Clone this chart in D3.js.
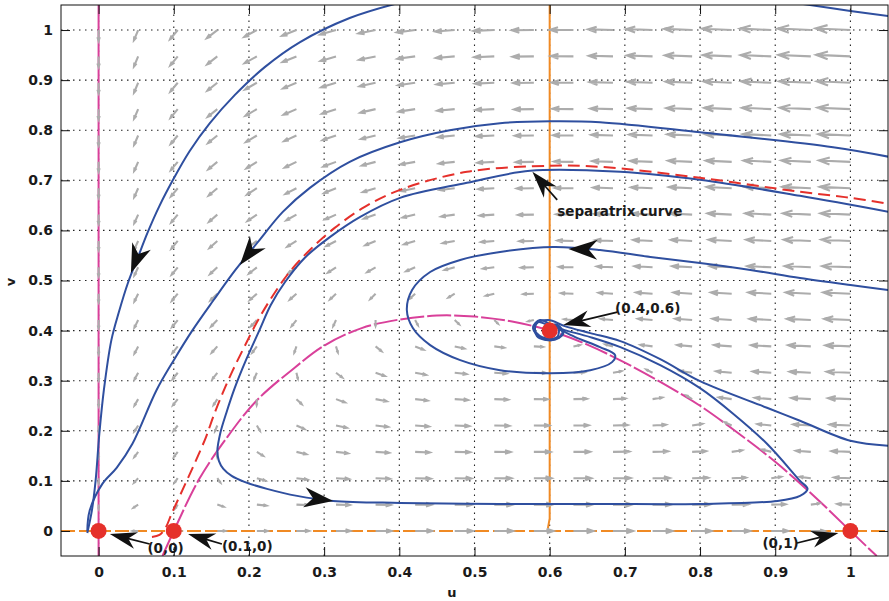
<!DOCTYPE html>
<html lang="en">
<head>
<meta charset="utf-8">
<title>Phase portrait</title>
<script src="https://d3js.org/d3.v7.min.js"></script>
<style>
  body { margin: 0; background: #fff; }
  svg { display: block; }
  text { font-family: "DejaVu Sans", sans-serif; font-weight: bold; fill: #1a1a1a; }
</style>
</head>
<body>
<svg width="889" height="601"></svg>
<script>
  // axis ticks
  var ticks = [0, 0.1, 0.2, 0.3, 0.4, 0.5, 0.6, 0.7, 0.8, 0.9, 1];
  var tickLabels = ["0", "0.1", "0.2", "0.3", "0.4", "0.5", "0.6", "0.7", "0.8", "0.9", "1"];

  // trajectories (u, v)
  var trajA = [[0.394,1.052],[0.334,1.024],[0.268,0.976],[0.221,0.926],[0.181,0.870],[0.148,0.814],[0.121,0.758],
    [0.099,0.701],[0.081,0.649],[0.065,0.595],[0.052,0.545],[0.039,0.495],[0.027,0.437],[0.017,0.381],[0.007,0.281],
    [0.001,0.194],[-0.004,0.100],[-0.009,0.040],[-0.015,-0.004]];
  var trajB = [[1.051,0.747],[0.977,0.766],[0.800,0.796],[0.667,0.816],[0.601,0.818],[0.534,0.814],[0.467,0.800],
    [0.401,0.776],[0.334,0.737],[0.281,0.685],[0.245,0.637],[0.212,0.577],[0.182,0.521],[0.153,0.461],[0.125,0.401],
    [0.100,0.341],[0.077,0.281],[0.045,0.174],[0.024,0.126],[0.005,0.094],[-0.012,0.040],[-0.015,0.0]];
  var trajC = [[1.051,0.637],[0.933,0.669],[0.800,0.701],[0.694,0.717],[0.574,0.719],[0.490,0.695],[0.401,0.665],
    [0.348,0.627],[0.308,0.587],[0.274,0.545],[0.248,0.497],[0.229,0.451],[0.214,0.401],[0.196,0.341],[0.181,0.285],
    [0.170,0.236],[0.162,0.196],[0.158,0.160],[0.160,0.140],[0.166,0.124],[0.177,0.110],[0.194,0.098],[0.224,0.084],
    [0.264,0.070],[0.312,0.060],[0.401,0.056],[0.534,0.054],[0.667,0.054],[0.800,0.054],[0.903,0.060],[0.933,0.070],
    [0.943,0.084],[0.933,0.100],[0.889,0.174],[0.844,0.234],[0.800,0.285],[0.747,0.331],[0.694,0.367],[0.654,0.387],
    [0.620,0.401],[0.598,0.411],[0.585,0.417],[0.578,0.405],[0.587,0.387],[0.604,0.381],[0.618,0.393],[0.611,0.411],
    [0.597,0.407],[0.599,0.395]];
  var trajD = [[1.051,0.481],[1.0,0.491],[0.933,0.505],[0.867,0.521],[0.800,0.535],[0.734,0.547],[0.667,0.561],
    [0.605,0.567],[0.534,0.557],[0.481,0.541],[0.441,0.517],[0.417,0.481],[0.410,0.441],[0.418,0.405],[0.441,0.371],
    [0.481,0.341],[0.534,0.321],[0.601,0.315],[0.654,0.321],[0.683,0.337],[0.687,0.351],[0.667,0.367],[0.634,0.387],
    [0.607,0.407],[0.587,0.421],[0.578,0.407],[0.590,0.387],[0.610,0.387],[0.611,0.407],[0.597,0.409],[0.599,0.395]];
  var trajE = [[1.051,0.170],[1.0,0.180],[0.933,0.220],[0.889,0.246],[0.800,0.299],
    [0.747,0.343],[0.694,0.379],[0.654,0.395],[0.620,0.409],[0.598,0.421],[0.582,0.413],[0.583,0.389],[0.603,0.381],
    [0.617,0.395],[0.609,0.411],[0.595,0.405],[0.601,0.393]];
  var trajF = [[0.937,1.052],[1.0,1.038],[1.051,1.028]];
  var trajectories = [trajA, trajB, trajC, trajD, trajE, trajF];

  var separatrix = [[0.071,-0.012],[0.081,-0.008],[0.089,0.006],[0.097,0.034],[0.108,0.070],[0.119,0.106],
    [0.131,0.146],[0.143,0.188],[0.153,0.230],[0.165,0.275],[0.178,0.319],[0.193,0.365],[0.210,0.415],[0.228,0.461],
    [0.254,0.517],[0.281,0.561],[0.314,0.605],[0.354,0.647],[0.401,0.681],[0.490,0.717],[0.601,0.729],[0.667,0.727],
    [0.800,0.705],[0.933,0.677],[1.0,0.665],[1.051,0.653]];

  // nullclines
  var preyNullcline = [[0.085,-0.05],[0.1,0],[0.134,0.104],[0.17,0.185],[0.21,0.26],[0.26,0.325],[0.3,0.37],[0.35,0.405],
    [0.4,0.422],[0.45,0.43],[0.5,0.428],[0.55,0.418],[0.6,0.4],[0.65,0.372],[0.7,0.336],[0.75,0.295],[0.8,0.25],
    [0.85,0.196],[0.9,0.138],[0.95,0.072],[1.0,0],[1.035,-0.05]];
  var preyAxis = [[0, -0.05], [0, 1.05]];
  var predAxis = [[-0.05, 0], [1.05, 0]];
  var predLine = [[0.6, 1.05], [0.6, 0.025], [0.597, 0.0]];

  var equilibria = [[0, 0], [0.1, 0], [0.6, 0.4], [1, 0]];

  // black arrowheads on trajectories: tip, then a point behind it
  var flowTips = [[0.043, 0.515], [0.188, 0.531], [0.312, 0.060], [0.625, 0.563]];
  var flowFrom = [[0.060, 0.580], [0.224, 0.600], [0.270, 0.068], [0.667, 0.561]];

  // annotations
  var notes = ["separatrix curve", "(0.4,0.6)", "(0,0)", "(0.1,0)", "(0,1)"];
  var noteAt = [[0.61, 0.629], [0.687, 0.435], [0.065, -0.044], [0.164, -0.04], [0.883, -0.034]];
  var pointerFrom = [[0.61, 0.661], [0.69, 0.437], [0.068, -0.026], [0.164, -0.026], [0.929, -0.024]];
  var pointerTo = [[0.577, 0.717], [0.618, 0.411], [0.015, -0.006], [0.119, -0.006], [0.984, -0.004]];

  // the system behind the direction field
  var ALLEE = 0.1, HB = 0.59, HC = 2.38, RATE = 0.11, USTAR = 0.6;
  function field(u, v) {
    return [u * ((1 - u) * (u - ALLEE) - v * (u + HB) / HC), RATE * v * (u - USTAR)];
  }
  var QSCALE = 0.0531, QPOW = 1 / 3;
  var qgrid = d3.range(20).map(function(i) { return i / 19; });

  var svg = d3.select("svg");
  var x = d3.scaleLinear().domain([-0.05, 1.05]).range([61, 888]);
  var y = d3.scaleLinear().domain([-0.05, 1.05]).range([556, 5]);

  svg.append("defs").append("clipPath").attr("id", "plot").append("rect")
    .attr("x", 61).attr("y", 5).attr("width", 827).attr("height", 551);

  var plot = svg.append("g").attr("clip-path", "url(#plot)");

  // dotted grid
  plot.selectAll(".gx").data(ticks).enter().append("line")
    .attr("x1", function(d) { return x(d); }).attr("x2", function(d) { return x(d); })
    .attr("y1", y(-0.05)).attr("y2", y(1.05))
    .attr("stroke", "#222").attr("stroke-width", 1.1).attr("stroke-dasharray", "1.5,4.5");
  plot.selectAll(".gy").data(ticks).enter().append("line")
    .attr("y1", function(d) { return y(d); }).attr("y2", function(d) { return y(d); })
    .attr("x1", x(-0.05)).attr("x2", x(1.05))
    .attr("stroke", "#222").attr("stroke-width", 1.1).attr("stroke-dasharray", "1.5,4.5");

  var straight = d3.line().x(function(d) { return x(d[0]); }).y(function(d) { return y(d[1]); });
  var smooth = d3.line().x(function(d) { return x(d[0]); }).y(function(d) { return y(d[1]); })
    .curve(d3.curveCatmullRom.alpha(0.5));

  // nullclines
  var magenta = "#d9409a", orange = "#f08a24";
  plot.append("path").attr("d", straight(preyAxis)).attr("fill", "none")
    .attr("stroke", magenta).attr("stroke-width", 2);
  plot.append("path").attr("d", smooth(preyNullcline)).attr("fill", "none")
    .attr("stroke", magenta).attr("stroke-width", 2).attr("stroke-dasharray", "24,3");
  plot.append("path").attr("d", straight(predAxis)).attr("fill", "none")
    .attr("stroke", orange).attr("stroke-width", 2).attr("stroke-dasharray", "14,4");
  plot.append("path").attr("d", straight(predLine)).attr("fill", "none")
    .attr("stroke", orange).attr("stroke-width", 2);

  // direction field: tail at the grid point, open head drawn in screen space
  var qpath = "";
  qgrid.forEach(function(u) {
    qgrid.forEach(function(v) {
      var f = field(u, v);
      var m = Math.hypot(f[0], f[1]);
      if (m < 1e-6) return;
      var len = QSCALE * Math.pow(m, QPOW);
      var x0 = x(u), y0 = y(v);
      var x1 = x(u + f[0] / m * len), y1 = y(v + f[1] / m * len);
      var dx = x1 - x0, dy = y1 - y0;
      var a = 0.34, b = 0.33;
      qpath += "M" + x0 + "," + y0 + "L" + x1 + "," + y1 +
        "M" + (x1 - a * (dx + b * dy)) + "," + (y1 - a * (dy - b * dx)) +
        "L" + x1 + "," + y1 +
        "L" + (x1 - a * (dx - b * dy)) + "," + (y1 - a * (dy + b * dx));
    });
  });
  plot.append("path").attr("d", qpath).attr("fill", "none")
    .attr("stroke", "#acacac").attr("stroke-width", 2.1);

  // trajectories
  plot.selectAll(".traj").data(trajectories).enter().append("path")
    .attr("d", smooth).attr("fill", "none")
    .attr("stroke", "#2f4f9f").attr("stroke-width", 2);

  plot.append("path").attr("d", smooth(separatrix)).attr("fill", "none")
    .attr("stroke", "#e5302b").attr("stroke-width", 2).attr("stroke-dasharray", "12,6");

  // equilibria
  svg.selectAll(".eq").data(equilibria).enter().append("circle")
    .attr("cx", function(d) { return x(d[0]); }).attr("cy", function(d) { return y(d[1]); })
    .attr("r", 8).attr("fill", "#e5302b");

  function arrowHead(g, x1, y1, x2, y2, L, W) {
    var dx = x2 - x1, dy = y2 - y1, d = Math.hypot(dx, dy);
    var ux = dx / d, uy = dy / d, nx = -uy, ny = ux;
    var bx = x2 - ux * L, by = y2 - uy * L;
    var pts = [[x2, y2], [bx + nx * W / 2, by + ny * W / 2],
      [x2 - ux * L * 0.7, y2 - uy * L * 0.7], [bx - nx * W / 2, by - ny * W / 2]];
    g.append("path").attr("d", "M" + pts.join("L") + "Z").attr("fill", "#111");
  }

  var marks = svg.append("g");
  flowTips.forEach(function(t, i) {
    arrowHead(marks, x(flowFrom[i][0]), y(flowFrom[i][1]), x(t[0]), y(t[1]), 29, 20);
  });

  // annotations with pointers
  notes.forEach(function(s, i) {
    var x1 = x(pointerFrom[i][0]), y1 = y(pointerFrom[i][1]);
    var x2 = x(pointerTo[i][0]), y2 = y(pointerTo[i][1]);
    var d = Math.hypot(x2 - x1, y2 - y1);
    var ex = x2 - (x2 - x1) / d * 18, ey = y2 - (y2 - y1) / d * 18;
    marks.append("line").attr("x1", x1).attr("y1", y1).attr("x2", ex).attr("y2", ey)
      .attr("stroke", "#111").attr("stroke-width", 1.7);
    arrowHead(marks, x1, y1, x2, y2, 27, 17);
    marks.append("text").attr("x", x(noteAt[i][0])).attr("y", y(noteAt[i][1]))
      .attr("font-size", 13.5).text(s);
  });

  // frame and axes
  svg.append("rect").attr("x", 61).attr("y", 5).attr("width", 827).attr("height", 551)
    .attr("fill", "none").attr("stroke", "#111").attr("stroke-width", 1);

  var fmt = function(d, i) { return tickLabels[i]; };
  svg.append("g").attr("transform", "translate(0,556)")
    .call(d3.axisBottom(x).tickValues(ticks).tickFormat(fmt).tickSize(-9).tickPadding(11));
  svg.append("g").attr("transform", "translate(61,0)")
    .call(d3.axisLeft(y).tickValues(ticks).tickFormat(fmt).tickSize(-9).tickPadding(8));
  svg.append("g").attr("transform", "translate(0,5)")
    .call(d3.axisTop(x).tickValues(ticks).tickFormat("").tickSize(-9));
  svg.append("g").attr("transform", "translate(888,0)")
    .call(d3.axisRight(y).tickValues(ticks).tickFormat("").tickSize(-9));
  svg.selectAll(".domain").remove();
  svg.selectAll(".tick line").attr("stroke", "#111");
  svg.selectAll(".tick text").attr("font-size", 14).attr("font-family", "DejaVu Sans, sans-serif")
    .attr("font-weight", "bold").attr("fill", "#1a1a1a");

  svg.append("text").attr("x", 452).attr("y", 597).attr("text-anchor", "middle")
    .attr("font-size", 13).text("u");
  svg.append("text").attr("transform", "translate(15,282) rotate(-90)").attr("text-anchor", "middle")
    .attr("font-size", 13).text("v");
</script>
</body>
</html>
